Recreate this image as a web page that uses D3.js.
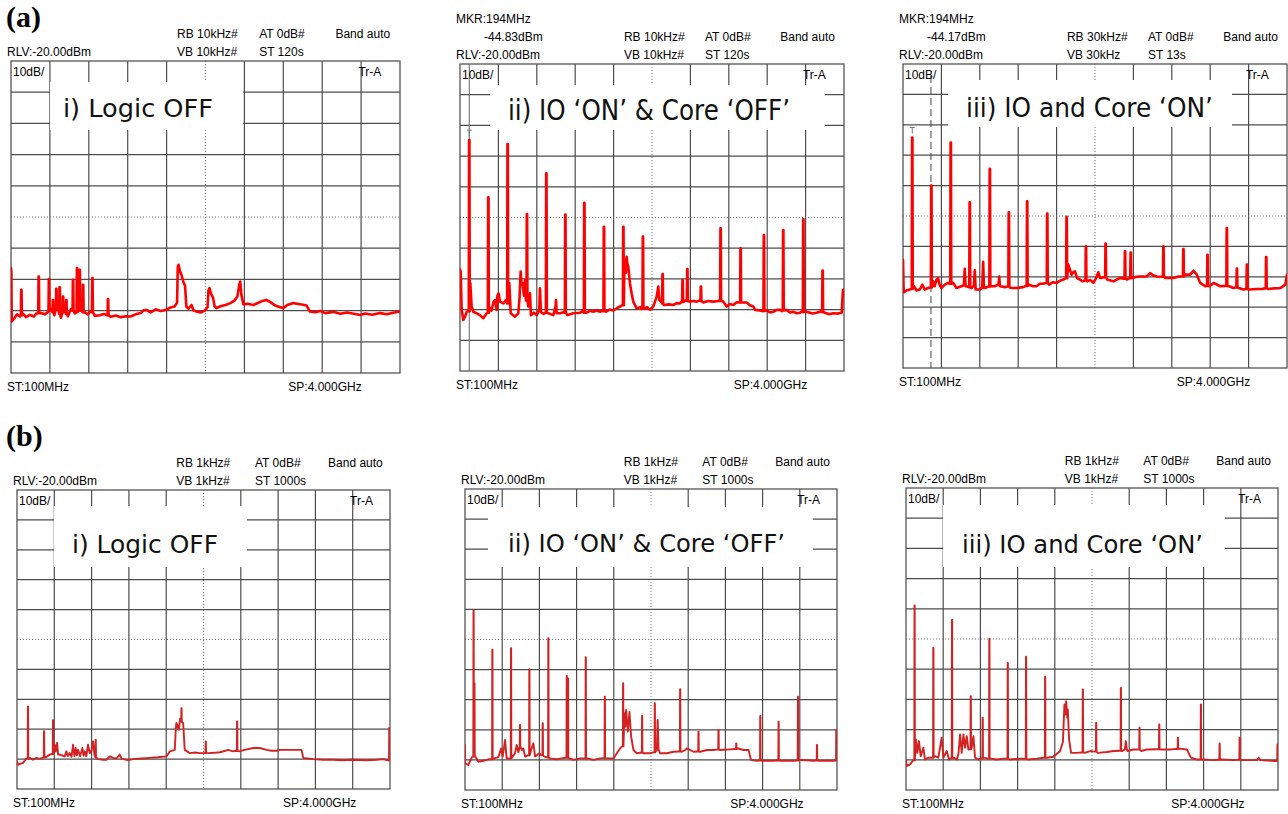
<!DOCTYPE html>
<html>
<head>
<meta charset="utf-8">
<script src="https://cdn.jsdelivr.net/npm/d3@7"></script>
<style>
  body { margin: 0; background: #fff; }
  svg { display: block; }
  text { font-family: "Liberation Sans", Arial, sans-serif; fill: #000; }
</style>
</head>
<body>
<svg id="chart" width="1288" height="814"></svg>
<script>
// axis span of every screen: 100 MHz .. 4 GHz, ref level -20 dBm, 10 dB/div
const freqSpan = [0.1, 4.0];
const levelSpan = [-20, -120];
const divisions = 10;

const panelTitles = ["i) Logic OFF", "ii) IO \u2018ON\u2019 & Core \u2018OFF\u2019", "iii) IO and Core \u2018ON\u2019",
                     "i) Logic OFF", "ii) IO \u2018ON\u2019 & Core \u2018OFF\u2019", "iii) IO and Core \u2018ON\u2019"];
const rbwText = ["RB 10kHz#", "RB 10kHz#", "RB 30kHz#", "RB 1kHz#", "RB 1kHz#", "RB 1kHz#"];
const vbwText = ["VB 10kHz#", "VB 10kHz#", "VB 30kHz", "VB 1kHz#", "VB 1kHz#", "VB 1kHz#"];
const sweepText = ["ST 120s", "ST 120s", "ST 13s", "ST 1000s", "ST 1000s", "ST 1000s"];
const markerText = [null, ["MKR:194MHz", "-44.83dBm"], ["MKR:194MHz", "-44.17dBm"], null, null, null];

// traces: floor points [GHz, dBm] and spikes [GHz, foot dBm, peak dBm]
const aOffFloor = [[0.100,-86.4],[0.104,-87.5],[0.107,-103.5],[0.13,-102.6],[0.16,-101.2],[0.19,-101.9],[0.22,-101.0],[0.25,-102.1],[0.29,-101.4],[0.33,-101.9],[0.354,-100.9],[0.40,-100.8],[0.44,-101.2],[0.47,-100.5],
  [0.50,-99.5],[0.535,-101.5],[0.57,-98.8],[0.60,-102.3],[0.64,-99.2],[0.67,-101.8],[0.70,-99.6],[0.74,-100.9],[0.80,-99.8],[0.84,-100.6],[0.87,-101.2],[0.90,-100.2],[0.94,-101.7],[0.99,-101.5],[1.03,-101.1],[1.06,-101.4],[1.10,-102.0],[1.15,-101.6],[1.20,-102.1],[1.25,-101.8],[1.30,-101.9],[1.35,-101.2],[1.40,-100.8],[1.43,-99.9],[1.46,-99.8],[1.50,-100.6],[1.55,-99.6],[1.60,-100.1],[1.66,-99.7],[1.70,-99.0],[1.74,-98.7],
  [1.765,-97.5],[1.772,-86.0],[1.780,-85.3],[1.795,-87.5],[1.809,-88.5],[1.83,-91.0],[1.845,-92.0],[1.858,-98.7],[1.88,-99.4],[1.91,-98.2],[1.93,-100.0],[1.96,-100.3],[2.00,-100.6],[2.04,-100.1],[2.07,-99.0],
  [2.080,-93.5],[2.090,-92.8],[2.105,-94.5],[2.127,-96.0],[2.14,-98.5],[2.16,-99.2],[2.20,-98.6],[2.25,-98.2],[2.30,-97.6],[2.34,-96.8],[2.37,-95.5],
  [2.390,-91.5],[2.398,-90.7],[2.41,-95.0],[2.43,-98.0],[2.47,-97.8],[2.53,-98.2],[2.58,-97.5],[2.62,-96.9],[2.66,-96.6],[2.70,-97.3],[2.75,-98.4],[2.80,-98.9],[2.83,-99.2],[2.87,-98.2],[2.93,-97.6],[2.98,-97.9],[3.03,-98.1],[3.064,-98.4],[3.097,-100.3],[3.15,-100.5],[3.20,-100.1],[3.25,-100.8],[3.33,-100.4],[3.40,-101.0],[3.47,-100.6],[3.55,-101.1],[3.60,-101.4],[3.65,-100.9],[3.72,-101.3],[3.80,-100.8],[3.87,-101.2],[3.93,-100.7],[4.00,-100.3]];
const aOffSpikes = [[0.204,-101.5,-93.3],[0.378,-100.8,-89.1],[0.481,-100.0,-89.9],[0.521,-100.5,-96.6],[0.555,-99.5,-93.0],[0.588,-101.0,-92.5],[0.622,-100.5,-95.5],[0.655,-101.0,-96.6],[0.722,-100.0,-90.1],[0.762,-100.5,-86.4],[0.789,-100.0,-86.9],[0.823,-100.5,-91.7],[0.916,-100.5,-89.6],[1.073,-101.5,-96.3]];

const aIoFloor = [[0.100,-86.9],[0.107,-87.6],[0.117,-100.1],[0.134,-103.4],[0.151,-102.3],[0.168,-100.7],[0.185,-100.5],
  [0.205,-91.4],[0.218,-99.0],[0.235,-100.7],[0.269,-101.2],[0.303,-101.8],[0.337,-102.8],[0.371,-101.2],
  [0.405,-99.5],[0.420,-100.3],[0.440,-97.5],[0.455,-96.9],[0.472,-100.1],[0.480,-95.5],[0.492,-94.7],[0.506,-97.4],[0.540,-98.0],[0.565,-97.0],
  [0.601,-91.4],[0.615,-101.2],[0.659,-102.3],[0.692,-101.2],[0.705,-96],[0.716,-87.6],[0.726,-92],[0.736,-91.4],[0.750,-95.5],[0.760,-90.4],[0.770,-97],
  [0.794,-99.0],[0.811,-94.7],[0.820,-101.8],[0.850,-101.0],[0.879,-101.8],[0.905,-100.0],[0.912,-93.1],[0.922,-100.8],[0.950,-101.4],
  [0.997,-101.2],[1.048,-101.8],[1.070,-99.0],[1.075,-96.9],[1.082,-101.2],[1.116,-101.2],[1.150,-100.9],
  [1.190,-101.8],[1.251,-101.2],[1.319,-101.0],[1.345,-100.5],
  [1.386,-101.0],[1.420,-100.4],[1.454,-100.7],[1.490,-100.2],[1.522,-100.7],[1.545,-100.3],
  [1.583,-100.7],[1.620,-100.0],[1.657,-100.3],[1.700,-99.4],[1.725,-99.0],[1.745,-98.6],
  [1.770,-84.0],[1.778,-83.8],[1.785,-88],[1.793,-82.8],[1.800,-85],[1.809,-86.0],[1.826,-91.4],[1.843,-94.7],[1.860,-97.4],[1.894,-99.6],[1.930,-99.2],[1.945,-99.8],
  [1.979,-99.6],[2.000,-99.2],[2.029,-100.1],[2.063,-99.0],[2.090,-96.5],[2.097,-95.8],[2.114,-92.5],[2.125,-96.9],[2.145,-97.5],
  [2.172,-98.5],[2.220,-98.3],[2.266,-98.5],[2.300,-97.9],[2.334,-98.0],[2.350,-97.4],
  [2.375,-97.4],[2.392,-97.0],
  [2.429,-97.4],[2.470,-97.2],[2.503,-97.4],[2.535,-97.0],
  [2.571,-97.7],[2.620,-97.2],[2.673,-97.4],[2.723,-97.2],[2.735,-97.0],
  [2.774,-97.4],[2.808,-99.0],[2.840,-98.2],[2.876,-98.5],[2.910,-97.6],[2.935,-97.7],
  [2.970,-97.7],[3.011,-97.7],[3.045,-98.6],[3.079,-99.0],[3.096,-100.1],[3.146,-100.3],[3.175,-100.5],
  [3.214,-100.3],[3.250,-100.9],[3.282,-100.7],[3.320,-100.1],[3.350,-100.1],[3.370,-100.5],
  [3.417,-100.1],[3.450,-100.9],[3.485,-100.7],[3.520,-101.2],[3.553,-101.0],[3.575,-100.6],
  [3.620,-100.7],[3.680,-101.3],[3.722,-101.0],[3.760,-100.6],
  [3.807,-101.0],[3.850,-101.5],[3.891,-101.2],[3.940,-101.3],[3.976,-101.0],[3.990,-93.6],[4.000,-93.6]];
const aIoSpikes = [[0.194,-100.5,-44.8],[0.388,-101,-63.4],[0.584,-98,-46.1],[0.780,-97,-68.9],[0.977,-101,-55.6],[1.170,-101,-69.0],[1.363,-101,-65.2],[1.562,-100.5,-73.0],[1.759,-98.6,-73.0],[1.958,-99.6,-76.2],[2.158,-98,-88.4],[2.361,-97.5,-90.4],[2.409,-97.2,-86.8],[2.547,-97.2,-92.5],[2.747,-97.2,-73.5],[2.950,-97.7,-80.0],[3.187,-100.4,-75.7],[3.383,-100.3,-74.1],[3.587,-100.8,-70.6],[3.783,-100.8,-87.3]];

const aCoreFloor = [[0.100,-84.4],[0.107,-95.1],[0.134,-94.5],[0.168,-94.2],[0.185,-94.0],
  [0.212,-93.1],[0.236,-94.5],[0.270,-94.2],[0.297,-92.6],[0.320,-94.2],[0.354,-93.7],[0.375,-93.5],
  [0.405,-91.5],[0.422,-93.1],[0.440,-91.0],[0.456,-90.4],[0.470,-92.5],[0.490,-93.7],[0.524,-92.6],[0.558,-92.0],[0.575,-92.3],
  [0.609,-92.0],[0.643,-93.7],[0.693,-93.1],[0.718,-92.8],[0.727,-87.4],[0.736,-93.1],[0.744,-93.1],[0.765,-93.4],
  [0.795,-93.7],[0.820,-93.0],[0.829,-87.9],[0.838,-94.2],[0.880,-94.2],[0.905,-93.5],[0.914,-85.1],[0.922,-93.7],[0.931,-93.7],[0.970,-93.2],
  [0.999,-93.1],[1.033,-93.1],[1.070,-92.5],[1.077,-89.9],[1.084,-93.1],[1.134,-93.4],[1.162,-93.2],
  [1.192,-93.7],[1.253,-93.7],[1.321,-93.4],[1.350,-93.0],
  [1.382,-92.6],[1.420,-93.1],[1.456,-93.1],[1.490,-92.3],[1.524,-92.3],[1.552,-92.0],
  [1.585,-92.6],[1.620,-91.8],[1.660,-92.0],[1.700,-91.2],[1.728,-90.9],[1.750,-90.5],
  [1.779,-86.0],[1.796,-87.7],[1.812,-89.3],[1.830,-88.5],[1.846,-88.2],[1.870,-90.5],[1.897,-90.9],[1.920,-91.5],[1.945,-91.2],
  [1.972,-91.5],[2.000,-91.0],[2.033,-92.0],[2.060,-90.5],[2.084,-88.5],[2.101,-90.4],[2.140,-90.2],
  [2.175,-90.9],[2.236,-91.5],[2.304,-90.4],[2.340,-90.6],
  [2.372,-90.9],[2.395,-90.5],
  [2.433,-90.4],[2.470,-90.0],[2.508,-89.9],[2.575,-89.9],[2.609,-88.8],[2.640,-89.5],[2.677,-89.9],[2.720,-90.0],
  [2.765,-90.4],[2.847,-90.4],[2.900,-89.9],[2.930,-89.9],
  [2.965,-89.3],[3.016,-89.3],[3.050,-88.0],[3.084,-89.3],[3.118,-92.0],[3.169,-93.1],[3.180,-93.0],
  [3.213,-93.1],[3.254,-92.0],[3.321,-93.1],[3.375,-93.0],
  [3.410,-93.1],[3.457,-93.7],[3.480,-93.5],
  [3.511,-93.7],[3.559,-94.2],[3.580,-94.0],
  [3.613,-94.2],[3.694,-94.0],[3.745,-94.0],[3.775,-93.8],
  [3.810,-94.0],[3.870,-93.8],[3.932,-93.7],[3.983,-92.6],[4.000,-89.3]];
const aCoreSpikes = [[0.194,-94,-44.2],[0.388,-93.5,-60.0],[0.585,-92.3,-45.8],[0.778,-93.4,-65.5],[0.982,-93.2,-54.5],[1.175,-93.2,-68.8],[1.361,-93.0,-65.2],[1.565,-92.0,-69.2],[1.762,-90.5,-70.3],[1.958,-91.2,-80.0],[2.158,-90.2,-79.1],[2.355,-90.6,-81.6],[2.413,-90.5,-82.0],[2.745,-90.0,-80.0],[2.948,-89.9,-80.9],[3.193,-93.0,-82.8],[3.389,-93.0,-74.0],[3.491,-93.5,-87.3],[3.593,-94.0,-86.0],[3.789,-93.8,-83.5]];

const bOffFloor = [[0.100,-110.7],[0.110,-111.9],[0.135,-111.5],[0.163,-111.3],[0.191,-110.0],[0.205,-109.8],
  [0.233,-109.6],[0.267,-110.2],[0.302,-109.6],[0.340,-109.9],[0.372,-109.5],
  [0.407,-109.3],[0.442,-108.5],[0.465,-108.3],
  [0.494,-105.2],[0.505,-107.5],[0.519,-104.6],[0.530,-108.5],[0.546,-108.5],[0.599,-109.1],[0.616,-107.4],[0.630,-109.0],[0.651,-108.0],[0.670,-109.2],[0.686,-105.2],[0.700,-109.0],[0.714,-106.3],[0.726,-108.8],[0.738,-106.9],[0.760,-109.0],[0.784,-106.3],[0.796,-108.9],[0.808,-107.4],[0.825,-109.0],[0.843,-105.2],[0.860,-108.0],[0.880,-107.0],[0.895,-104.1],[0.910,-108.5],
  [0.948,-110.0],[1.000,-110.2],[1.035,-110.2],[1.070,-109.1],[1.105,-109.6],[1.140,-109.8],[1.174,-108.5],[1.195,-110.0],[1.209,-110.0],[1.260,-110.3],[1.314,-110.0],[1.400,-109.8],[1.488,-109.6],[1.570,-109.4],[1.663,-109.1],[1.698,-107.4],[1.750,-106.9],[1.760,-100],
  [1.767,-97.9],[1.780,-99.0],[1.792,-100.2],[1.805,-96.5],[1.837,-97.9],[1.854,-106.9],[1.907,-108.0],[1.960,-107.8],[2.011,-108.0],[2.060,-108.0],
  [2.099,-108.0],[2.160,-107.9],[2.221,-107.7],[2.270,-107.3],[2.308,-106.9],[2.360,-107.4],[2.390,-107.2],
  [2.423,-107.4],[2.480,-106.9],[2.570,-106.3],[2.639,-106.3],[2.709,-106.9],[2.760,-107.2],[2.814,-107.2],[2.849,-106.9],[2.950,-106.9],[3.058,-106.9],[3.075,-106.9],[3.093,-109.6],[3.197,-110.0],[3.300,-110.2],[3.407,-110.2],[3.500,-110.4],[3.600,-110.2],[3.755,-110.4],[3.860,-110.2],[3.930,-110.0],[3.975,-110.4]];
const bOffSpikes = [[0.215,-109.8,-92.4],[0.383,-109.5,-100.7],[0.477,-108.3,-97.0],[0.923,-109.5,-103.5],[1.820,-97.5,-93.0],[2.074,-108,-104.1],[2.402,-107.3,-97.4],[3.993,-110.4,-99.6]];

const bIoFloor = [[0.100,-105.0],[0.102,-111.1],[0.135,-111.7],[0.159,-110.0],[0.177,-108.9],
  [0.208,-108.9],[0.240,-110.6],[0.292,-110.3],[0.345,-109.8],[0.375,-109.8],
  [0.404,-109.5],[0.450,-109.1],[0.478,-106.2],[0.495,-108.9],[0.520,-103.4],[0.537,-109.5],[0.565,-109.5],
  [0.600,-108.9],[0.625,-107.8],[0.642,-105.0],[0.660,-107.5],
  [0.695,-106.7],[0.712,-106.2],[0.730,-108.9],[0.760,-108.5],
  [0.793,-106.7],[0.817,-104.5],[0.835,-108.9],[0.880,-107.8],[0.900,-108.5],
  [0.932,-108.9],[0.960,-109.2],
  [0.992,-109.5],[1.062,-109.8],[1.114,-109.5],[1.155,-109.3],
  [1.195,-109.5],[1.237,-110.0],[1.307,-109.5],[1.350,-109.5],
  [1.384,-109.5],[1.447,-110.0],[1.517,-109.5],[1.550,-109.4],
  [1.580,-109.5],[1.657,-109.5],[1.692,-107.8],[1.726,-106.2],[1.745,-105.5],
  [1.772,-94.5],[1.780,-99],[1.789,-93.4],[1.807,-100.6],[1.824,-94.0],[1.842,-102.3],[1.866,-106.7],[1.901,-107.8],[1.940,-107.6],
  [1.975,-107.8],[2.041,-107.8],[2.075,-107.5],
  [2.111,-106.7],[2.120,-96.7],[2.129,-106.5],[2.146,-107.8],[2.216,-107.8],[2.286,-107.3],[2.340,-107.2],
  [2.374,-107.3],[2.409,-106.7],[2.426,-106.2],[2.496,-107.3],[2.535,-107.2],
  [2.566,-107.3],[2.636,-106.7],[2.706,-106.7],[2.745,-106.6],
  [2.776,-106.7],[2.881,-106.5],[2.930,-106.4],
  [2.961,-106.2],[3.021,-106.7],[3.073,-106.7],[3.098,-110.0],[3.161,-110.3],[3.185,-110.2],
  [3.213,-110.3],[3.335,-110.3],[3.375,-110.2],
  [3.405,-110.3],[3.545,-110.3],[3.578,-110.2],
  [3.608,-110.0],[3.755,-110.3],[3.778,-110.2],
  [3.808,-110.3],[3.965,-110.3],[3.985,-110.2]];
const bIoSpikes = [[0.190,-108.9,-60.4],[0.199,-108.9,-84.5],[0.387,-109.8,-73.4],[0.583,-109.5,-72.9],[0.677,-105.5,-98.4],[0.775,-108.5,-79.9],[0.915,-108.5,-97.8],[0.974,-109.2,-69.6],[1.167,-109.3,-82.1],[1.180,-109.3,-82.9],[1.366,-109.5,-75.9],[1.566,-109.4,-89.0],[1.758,-105.5,-84.5],[1.957,-107.6,-95.4],[2.090,-107.5,-91.2],[2.356,-107.2,-86.5],[2.548,-107.2,-100.6],[2.758,-106.6,-100.1],[2.944,-106.4,-104.5],[3.196,-110.2,-95.4],[3.388,-110.2,-97.3],[3.591,-110.2,-89.0],[3.790,-110.2,-105.0],[3.993,-110.2,-100.1]];

const bCoreFloor = [[0.100,-110.1],[0.107,-112.1],[0.142,-111.5],[0.170,-110.4],[0.180,-110.2],
  [0.205,-103.3],[0.219,-107.7],[0.236,-103.8],[0.254,-108.8],[0.282,-106.0],[0.299,-109.9],[0.334,-109.3],[0.372,-109.3],
  [0.404,-108.8],[0.439,-109.3],[0.474,-102.7],[0.492,-109.3],[0.527,-107.1],[0.551,-109.9],[0.570,-109.5],
  [0.604,-109.3],[0.632,-109.9],[0.650,-108],[0.667,-101.6],[0.684,-107.7],[0.702,-101.6],[0.719,-106.0],[0.737,-102.2],[0.754,-106.6],[0.765,-106.5],
  [0.789,-106.0],[0.807,-102.2],[0.824,-109.3],[0.859,-109.9],[0.890,-109.5],
  [0.918,-109.3],[0.960,-109.6],
  [0.992,-109.6],[1.051,-109.9],[1.121,-109.6],[1.152,-109.6],
  [1.184,-109.9],[1.296,-109.6],[1.345,-109.6],
  [1.377,-109.9],[1.471,-109.6],[1.545,-109.3],
  [1.576,-109.3],[1.646,-109.0],[1.716,-107.1],[1.745,-104],[1.761,-91.7],[1.770,-95],[1.779,-90.6],[1.790,-96],[1.796,-93.3],[1.810,-103.3],[1.831,-107.7],[1.891,-107.7],[1.940,-107.6],
  [1.971,-107.7],[2.031,-107.1],[2.080,-107.3],
  [2.111,-107.7],[2.206,-107.4],[2.276,-107.1],[2.340,-107.0],
  [2.370,-107.1],[2.395,-106.5],[2.405,-103.8],[2.415,-106.5],[2.423,-107.1],[2.485,-106.6],[2.535,-106.6],
  [2.566,-107.1],[2.625,-106.6],[2.740,-106.5],
  [2.772,-106.6],[2.870,-106.6],[2.935,-106.4],
  [2.968,-106.3],[3.045,-106.6],[3.087,-109.3],[3.150,-109.9],[3.178,-109.9],
  [3.210,-109.9],[3.325,-110.1],[3.375,-110.0],
  [3.405,-109.9],[3.535,-110.1],[3.585,-110.0],
  [3.615,-110.1],[3.780,-110.1],[3.797,-109.3],[3.815,-110.1],[3.972,-110.4],[3.990,-110.3]];
const bCoreSpikes = [[0.190,-110.2,-58.9],[0.387,-109.3,-72.9],[0.583,-109.5,-63.6],[0.779,-106.5,-88.9],[0.904,-109.5,-96.1],[0.974,-109.6,-70.0],[1.167,-109.6,-77.9],[1.359,-109.6,-75.9],[1.559,-109.3,-82.5],[1.954,-107.6,-86.7],[2.094,-107.3,-97.7],[2.353,-107.0,-86.2],[2.548,-106.6,-99.4],[2.755,-106.5,-98.3],[2.951,-106.4,-102.7],[3.192,-109.9,-91.7],[3.388,-110.0,-104.6],[3.598,-110.0,-102.7],[3.995,-110.3,-104.9]];

const traces = [
  [aOffFloor, aOffSpikes], [aIoFloor, aIoSpikes], [aCoreFloor, aCoreSpikes],
  [bOffFloor, bOffSpikes], [bIoFloor, bIoSpikes], [bCoreFloor, bCoreSpikes]
];

// screen frames and label boxes (pixels)
const layout = [
  { x: 11, y: 61, w: 389, h: 312, box: [50, 82, 193, 48], title: { x: 63, y: 117, size: 25, len: 150 }, color: "#ff0000", lw: 2.6, spikeW: 0.005 },
  { x: 460, y: 64, w: 384, h: 307, box: [490, 85, 335, 45], title: { x: 508, y: 120, size: 28, len: 282 }, color: "#ff0000", lw: 2.6, spikeW: 0.005, mkr: "solid" },
  { x: 903, y: 64, w: 384, h: 304, box: [948, 80, 284, 47], title: { x: 966, y: 117, size: 27, len: 247 }, color: "#ff0000", lw: 2.6, spikeW: 0.005, mkr: "dashed" },
  { x: 17, y: 490, w: 373, h: 299, box: [54, 506, 193, 61], title: { x: 72, y: 553, size: 25, len: 146 }, color: "#d42222", lw: 1.9, spikeW: 0.003 },
  { x: 465, y: 489, w: 372, h: 301, box: [488, 507, 325, 60], title: { x: 508, y: 552, size: 25, len: 277 }, color: "#d42222", lw: 1.9, spikeW: 0.003 },
  { x: 906, y: 488, w: 372, h: 302, box: [943, 505, 282, 62], title: { x: 962, y: 553, size: 25, len: 241 }, color: "#d42222", lw: 1.9, spikeW: 0.003 }
];

const svg = d3.select("#chart");

svg.append("text").attr("x", 6).attr("y", 27)
  .style("font-family", "'Liberation Serif', 'Times New Roman', serif")
  .style("font-size", "30px").style("font-weight", "bold").text("(a)");
svg.append("text").attr("x", 6).attr("y", 446)
  .style("font-family", "'Liberation Serif', 'Times New Roman', serif")
  .style("font-size", "30px").style("font-weight", "bold").text("(b)");

function buildTrace(floor, spikes, hw) {
  const pts = floor.map(d => [d[0], d[1]]);
  spikes.forEach(s => {
    pts.push([s[0] - hw, s[1]], [s[0] - hw / 3, s[2]], [s[0] + hw / 3, s[2]], [s[0] + hw, s[1]]);
  });
  return pts.sort((a, b) => a[0] - b[0]);
}

function label(g, x, y, txt) {
  g.append("text").attr("x", x).attr("y", y + 4).style("font-size", "12px").text(txt);
}

layout.forEach((p, i) => {
  const g = svg.append("g");
  const x = d3.scaleLinear().domain(freqSpan).range([p.x, p.x + p.w]);
  const y = d3.scaleLinear().domain(levelSpan).range([p.y, p.y + p.h]);
  const fStep = (freqSpan[1] - freqSpan[0]) / divisions;
  const lStep = (levelSpan[1] - levelSpan[0]) / divisions;

  // grid
  const inner = d3.range(1, divisions);
  g.selectAll("line.gv").data(inner).enter().append("line")
    .attr("x1", d => x(freqSpan[0] + d * fStep)).attr("x2", d => x(freqSpan[0] + d * fStep))
    .attr("y1", p.y).attr("y2", p.y + p.h)
    .attr("stroke", d => d === divisions / 2 ? "#7a7a7a" : "#4d4d4d")
    .attr("stroke-width", d => d === divisions / 2 ? 1 : 1.2)
    .attr("stroke-dasharray", d => d === divisions / 2 ? "1,2" : null);
  g.selectAll("line.gh").data(inner).enter().append("line")
    .attr("y1", d => y(levelSpan[0] + d * lStep)).attr("y2", d => y(levelSpan[0] + d * lStep))
    .attr("x1", p.x).attr("x2", p.x + p.w)
    .attr("stroke", d => d === divisions / 2 ? "#7a7a7a" : "#4d4d4d")
    .attr("stroke-width", d => d === divisions / 2 ? 1 : 1.2)
    .attr("stroke-dasharray", d => d === divisions / 2 ? "1,2" : null);
  g.append("rect").attr("x", p.x).attr("y", p.y).attr("width", p.w).attr("height", p.h)
    .attr("fill", "none").attr("stroke", "#555").attr("stroke-width", 1.3);

  // white label box over the grid
  g.append("rect").attr("x", p.box[0]).attr("y", p.box[1]).attr("width", p.box[2]).attr("height", p.box[3])
    .attr("fill", "#fff");
  g.append("text").attr("x", p.title.x).attr("y", p.title.y)
    .attr("textLength", p.title.len).attr("lengthAdjust", "spacingAndGlyphs")
    .style("font-family", "'DejaVu Sans', Verdana, sans-serif")
    .style("font-size", p.title.size + "px").style("fill", "#111")
    .text(panelTitles[i]);

  // marker lines
  if (p.mkr === "solid") {
    g.append("line").attr("x1", x(0.194)).attr("x2", x(0.194)).attr("y1", p.y).attr("y2", p.y + p.h)
      .attr("stroke", "#666").attr("stroke-width", 1);
  }
  if (p.mkr === "dashed") {
    g.append("line").attr("x1", x(0.384)).attr("x2", x(0.384)).attr("y1", p.y + 12).attr("y2", p.y + p.h)
      .attr("stroke", "#444").attr("stroke-width", 1).attr("stroke-dasharray", "7,4");
  }

  // trace
  const clipId = "clip" + i;
  g.append("clipPath").attr("id", clipId).append("rect")
    .attr("x", p.x).attr("y", p.y).attr("width", p.w).attr("height", p.h);
  const line = d3.line().x(d => x(d[0])).y(d => y(d[1]));
  g.append("path").datum(buildTrace(traces[i][0], traces[i][1], p.spikeW))
    .attr("clip-path", `url(#${clipId})`)
    .attr("d", line).attr("fill", "none")
    .attr("stroke", p.color).attr("stroke-width", p.lw)
    .attr("stroke-linejoin", "round").attr("stroke-linecap", "round");

  // marker symbol on the 194 MHz peak
  if (markerText[i]) {
    const peak = traces[i][1][0];
    const mx = x(peak[0]), my = y(peak[2]) - 10;
    g.append("path").attr("d", `M${mx - 2.5},${my} H${mx + 2.5} M${mx},${my} V${my + 6}`)
      .attr("stroke", "#777").attr("stroke-width", 1).attr("fill", "none");
  }

  // instrument annotations
  const x0 = p.x, y0 = p.y, y1 = p.y + p.h;
  if (markerText[i]) {
    label(g, x0 - 4, y0 - 45, markerText[i][0]);
    label(g, x0 + 24, y0 - 27, markerText[i][1]);
  }
  label(g, x0 + 0.427 * p.w, y0 - 27, rbwText[i]);
  label(g, x0 + 0.638 * p.w, y0 - 27, "AT 0dB#");
  label(g, x0 + 0.834 * p.w, y0 - 27, "Band auto");
  label(g, x0 - 4, y0 - 9, "RLV:-20.00dBm");
  label(g, x0 + 0.427 * p.w, y0 - 9, vbwText[i]);
  label(g, x0 + 0.638 * p.w, y0 - 9, sweepText[i]);
  label(g, x0 + 2, y0 + 11, "10dB/");
  label(g, x0 + 0.893 * p.w, y0 + 11, "Tr-A");
  label(g, x0 - 4, y1 + 14, "ST:100MHz");
  label(g, x0 + 0.713 * p.w, y1 + 14, "SP:4.000GHz");
});
</script>
</body>
</html>
